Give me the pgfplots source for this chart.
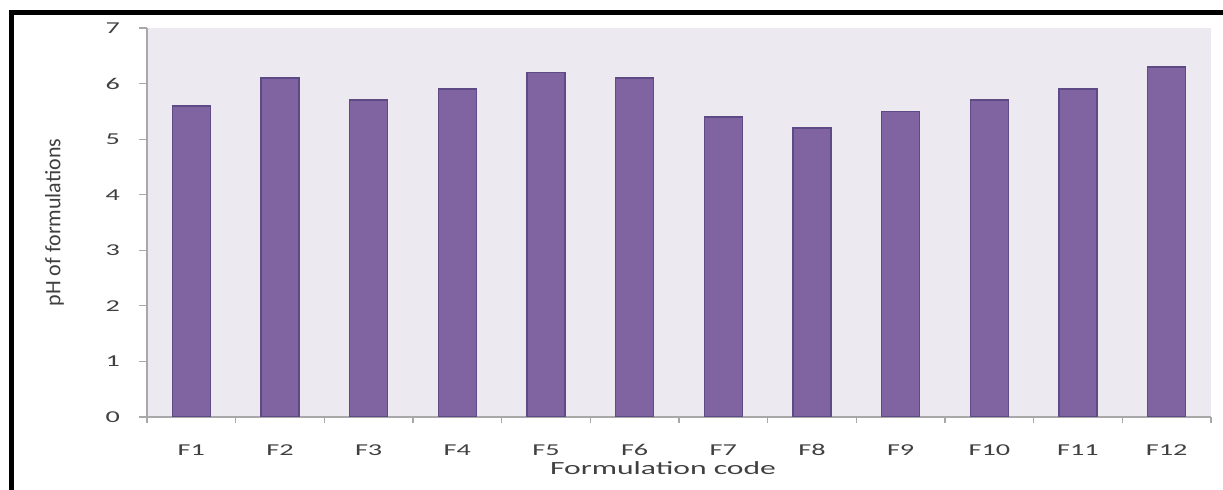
\documentclass[border=0pt]{standalone}
\usepackage{pgfplots}
\pgfplotsset{compat=1.18}
\usepackage{fontspec}
\setmainfont{Carlito}[FakeStretch=1.7]
\newfontfamily\ylabfont{Carlito}
\definecolor{barfill}{HTML}{8064A2}
\definecolor{baredge}{HTML}{5E4A85}
\definecolor{bgcol}{HTML}{ECEAF0}
\definecolor{axcol}{HTML}{A8A8A8}
\definecolor{txt}{HTML}{404040}
\begin{document}
\begin{tikzpicture}
\useasboundingbox (-73.5pt,-36.5pt) rectangle (538pt,208.5pt);
\begin{axis}[
  at={(0pt,0pt)}, anchor=south west,
  scale only axis, width=532pt, height=194.5pt,
  xmin=0.5, xmax=12.5, ymin=0, ymax=7,
  ytick={0,1,...,7},
  xtick={1,...,12},
  xticklabels={F1,F2,F3,F4,F5,F6,F7,F8,F9,F10,F11,F12},
  minor xtick={0.5,1.5,...,12.5},
  major x tick style={draw=none},
  tick align=outside,
  major tick length=4pt,
  minor tick length=3pt,
  tick style={axcol, line width=0.6pt},
  axis lines*=left,
  axis line style={axcol, line width=0.8pt, -},
  axis background/.style={fill=bgcol},
  /pgf/number format/assume math mode=true,
  ticklabel style={font=\fontsize{8.3}{10}\selectfont, text=txt},
  yticklabel style={xshift=-6pt},
  xticklabel style={yshift=-5pt, text height=1.4ex, text depth=0.2ex},
  xlabel={Formulation code},
  xlabel style={font=\fontsize{9.3}{11}\selectfont, text=txt, at={(axis description cs:0.485,0)}, anchor=north, yshift=-19pt},
  ylabel={\ylabfont pH of formulations},
  ylabel style={font=\fontsize{11}{13}\selectfont, text=txt, yshift=14pt},
]
\addplot[ybar, bar width=19pt, fill=barfill, draw=baredge, line width=0.8pt]
  coordinates {(1,5.6) (2,6.1) (3,5.7) (4,5.9) (5,6.2) (6,6.1) (7,5.4) (8,5.2) (9,5.5) (10,5.7) (11,5.9) (12,6.3)};
\end{axis}
\fill[black] (-68.8pt,-36.5pt) rectangle (-66.4pt,203.5pt);
\fill[black] (-68.8pt,201pt) rectangle (538pt,203.5pt);
\end{tikzpicture}
\end{document}
